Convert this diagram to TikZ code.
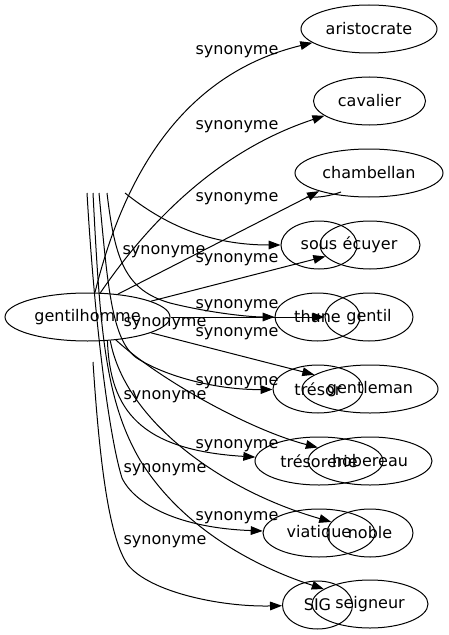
\documentclass[tikz,border=0pt]{standalone}
\usepackage{fontspec}
\setmainfont{DejaVu Sans}
\usetikzlibrary{shapes.geometric,arrows.meta}

\tikzset{every picture/.style={line width=0.75pt}}
\tikzset{
  word/.style={draw, ellipse, inner sep=0pt, minimum height=36pt, font=\fontsize{12}{14}\selectfont},
  syn/.style={-{Triangle[length=9pt,width=6.5pt]}},
  lbl/.style={font=\fontsize{12}{14}\selectfont},
}

\begin{document}
\begin{tikzpicture}[x=0.75pt,y=0.75pt,yscale=-1,xscale=1]
	\path[use as bounding box] (0,0) rectangle (449,635);

	%Shape: Ellipse [gentilhomme]
	\node[word, minimum width=123.75pt] (gen) at (87.5,317) {gentilhomme};
	%Shape: Ellipse [right column]
	\node[word, minimum width=102pt] (aristocrate) at (369,29) {aristocrate};
	\node[word, minimum width=84pt] (cavalier) at (369.5,101) {cavalier};
	\node[word, minimum width=111pt] (chambellan) at (369,173) {chambellan};
	\node[word, minimum width=57pt] (sous) at (319,245) {sous};
	\node[word, minimum width=75pt] (ecuyer) at (370,245) {écuyer};
	\node[word, minimum width=63.75pt] (thune) at (317.5,317) {thune};
	\node[word, minimum width=66pt] (gentil) at (369,317) {gentil};
	\node[word, minimum width=67.5pt] (tresor) at (318,389) {trésor};
	\node[word, minimum width=102pt] (gentleman) at (370,389) {gentleman};
	\node[word, minimum width=96pt] (tresorerie) at (319,461) {trésorerie};
	\node[word, minimum width=93pt] (hobereau) at (370,461) {hobereau};
	\node[word, minimum width=84pt] (viatique) at (319,533) {viatique};
	\node[word, minimum width=64.5pt] (noble) at (370,533) {noble};
	\node[word, minimum width=52.5pt] (sig) at (317.5,605) {SIG};
	\node[word, minimum width=87pt] (seigneur) at (370,604) {seigneur};

	%Free ends of the stray splines
	\coordinate (ta) at (87,193);
	\coordinate (tb) at (93,193);
	\coordinate (tc) at (99,193);
	\coordinate (td) at (107,193);
	\coordinate (te) at (125,193);
	\coordinate (bf) at (93,362);

	%Curve Lines
	\draw[syn] (gen.73) .. controls (130,150) and (200,70) .. (aristocrate);
	\draw[syn] (gen.62) .. controls (150,220) and (220,150) .. (cavalier);
	\draw[syn] (gen.37) -- (chambellan.200);
	\draw (306,197) .. controls (318,198) and (330,196) .. (341,192);
	\draw[syn] (te) .. controls (165,225) and (210,245) .. (sous);
	\draw[syn] (gen.14) -- (ecuyer);
	\draw[syn] (td) .. controls (115,260) and (125,290) .. (170,303) .. controls (210,313) and (250,317) .. (thune);
	\draw[syn] (gen) -- (gentil);
	\draw[syn] (tc) .. controls (108,290) and (112,345) .. (140,360) .. controls (170,378) and (220,390) .. (tresor);
	\draw[syn] (gen.346) -- (gentleman);
	\draw[syn] (gen.310) .. controls (110,410) and (140,450) .. (tresorerie);
	\draw[syn] (gen.321) .. controls (160,380) and (250,430) .. (hobereau);
	\draw[syn] (ta) .. controls (95,330) and (110,440) .. (122,478) .. controls (135,505) and (180,528) .. (viatique);
	\draw[syn] (gen.314) .. controls (125,420) and (220,490) .. (noble);
	\draw[syn] (bf) .. controls (100,470) and (110,540) .. (128,565) .. controls (150,592) and (220,607) .. (sig);
	\draw[syn] (tb) .. controls (100,330) and (105,400) .. (140,460) .. controls (180,525) and (250,565) .. (seigneur);

	% Text Node
	\node[lbl] (s1) at (237,52) {synonyme};
	% Text Node
	\node[lbl] (s2) at (237,127) {synonyme};
	% Text Node
	\node[lbl] (s3) at (237,199) {synonyme};
	% Text Node
	\node[lbl] (s4) at (164,252) {synonyme};
	% Text Node
	\node[lbl] (s5) at (237,260) {synonyme};
	% Text Node
	\node[lbl] (s6) at (237,306) {synonyme};
	% Text Node
	\node[lbl] (s7) at (165,324) {synonyme};
	% Text Node
	\node[lbl] (s8) at (237,334) {synonyme};
	% Text Node
	\node[lbl] (s9) at (237,383) {synonyme};
	% Text Node
	\node[lbl] (s10) at (165,397) {synonyme};
	% Text Node
	\node[lbl] (s11) at (237,446) {synonyme};
	% Text Node
	\node[lbl] (s12) at (165,470) {synonyme};
	% Text Node
	\node[lbl] (s13) at (237,518) {synonyme};
	% Text Node
	\node[lbl] (s14) at (165,542) {synonyme};

\end{tikzpicture}
\end{document}
